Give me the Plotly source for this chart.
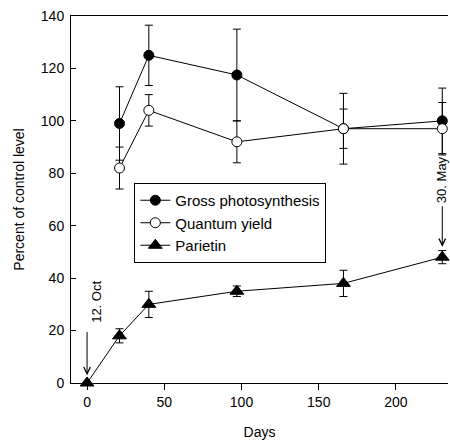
import plotly.graph_objects as go

# Sampling days
days = [0, 21, 40, 97, 166, 230]
days_ps = [21, 40, 97, 166, 230]

# Gross photosynthesis (% of control) and its error
gross = [99, 125, 117.5, 97, 100]
gross_err = [14, 11.5, 17.5, 13.5, 12.5]

# Quantum yield (% of control) and its error
quantum = [82, 104, 92, 97, 97]
quantum_err = [8, 6, 8, 7.5, 10]

# Parietin (% of control) and its error
parietin = [0, 18, 30, 35, 38, 48]
parietin_err = [0, 2.7, 5, 2, 5, 2.5]

x_ticks = [0, 50, 100, 150, 200]
y_ticks = [0, 20, 40, 60, 80, 100, 120, 140]

FONT = "Liberation Sans, Arial, sans-serif"
err_style = dict(type="data", visible=True, color="black", thickness=1, width=4)
line_style = dict(color="black", width=1)

fig = go.Figure()
fig.add_trace(go.Scatter(
    x=days_ps, y=gross, name="Gross photosynthesis", mode="lines+markers",
    line=line_style,
    marker=dict(symbol="circle", size=10, color="black", line=dict(color="black", width=1)),
    error_y=dict(array=gross_err, **err_style),
    cliponaxis=False,
))
fig.add_trace(go.Scatter(
    x=days_ps, y=quantum, name="Quantum yield", mode="lines+markers",
    line=line_style,
    marker=dict(symbol="circle", size=10, color="white", line=dict(color="black", width=1)),
    error_y=dict(array=quantum_err, **err_style),
    cliponaxis=False,
))
fig.add_trace(go.Scatter(
    x=days, y=parietin, name="Parietin", mode="lines+markers",
    line=line_style,
    marker=dict(symbol="triangle-up", size=12, color="black", line=dict(color="black", width=1)),
    error_y=dict(array=parietin_err, **err_style),
    cliponaxis=False,
))

annot_font = dict(family=FONT, size=13, color="black")
arrow = dict(showarrow=True, arrowhead=5, arrowsize=1.3, arrowwidth=1, arrowcolor="black",
             axref="x", ayref="y", xref="x", yref="y", standoff=0, startstandoff=0)
fig.add_annotation(text="", x=0, y=3, ax=0, ay=20, **arrow)
fig.add_annotation(text="12. Oct", x=6.5, y=31, xref="x", yref="y", textangle=-90,
                   showarrow=False, font=annot_font, xanchor="center", yanchor="middle")
fig.add_annotation(text="", x=230, y=52, ax=230, ay=68, **arrow)
fig.add_annotation(text="30. May", x=230, y=77.5, xref="x", yref="y", textangle=-90,
                   showarrow=False, font=annot_font, xanchor="center", yanchor="middle")

fig.update_layout(
    width=450, height=441,
    margin=dict(l=71, r=2, t=16, b=58),
    paper_bgcolor="white", plot_bgcolor="white",
    font=dict(family=FONT, size=14, color="black"),
    showlegend=True,
    legend=dict(
        x=0.168, y=0.545, xanchor="left", yanchor="top",
        bgcolor="white", bordercolor="black", borderwidth=1,
        font=dict(family=FONT, size=15, color="black"),
        tracegroupgap=0, itemwidth=30,
    ),
    xaxis=dict(
        range=[-10.4, 233.7], tickvals=x_ticks, ticks="outside", ticklen=6,
        tickcolor="black", showline=True, linecolor="black", linewidth=1,
        mirror=True, showgrid=False, zeroline=False,
        title=dict(text="Days", font=dict(family=FONT, size=14), standoff=18),
        tickfont=dict(family=FONT, size=14),
    ),
    yaxis=dict(
        range=[0, 140], tickvals=y_ticks, ticks="inside", ticklen=5,
        tickcolor="black", showline=True, linecolor="black", linewidth=1,
        mirror=False, showgrid=False, zeroline=False, ticklabelstandoff=3,
        title=dict(text="Percent of control level", font=dict(family=FONT, size=14), standoff=12),
        tickfont=dict(family=FONT, size=14),
    ),
)

fig.write_html("out.html")
